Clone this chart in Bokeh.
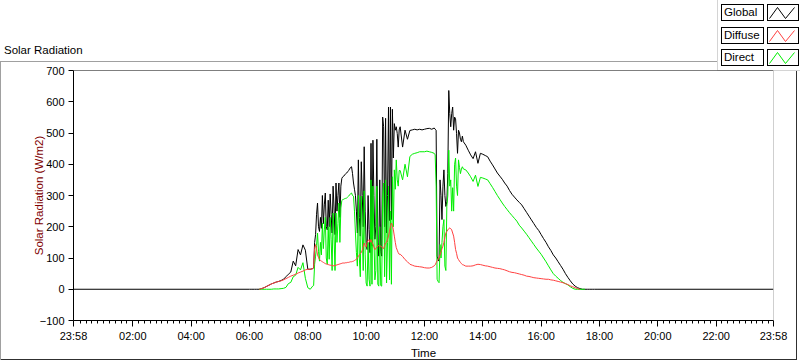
from urllib.parse import quote
from bokeh.plotting import figure
from bokeh.layouts import column
from bokeh.models import Range1d, FixedTicker, Span, InlineStyleSheet, Div
from bokeh.embed import file_html
from bokeh.resources import INLINE

NaN = float("nan")

# ---- data: minutes after midnight / W/m2 (5-min, 2-min in the cloudy spells) ----
time_min = (list(range(360, 490, 5)) + list(range(490, 670, 2)) +
            list(range(670, 740, 5)) + list(range(740, 800, 2)) +
            list(range(800, 1080, 5)))

global_wm2 = [
    # 06:00-08:05 (5 min)
    0, 0, 0, 0, 0, 2, 5, 9, 13, 17, 20, 23,
    25, 28, 32, 40, 48, 55, 90, 75, 127, 110, 142, 125,
    64, 64,
    # 08:10-11:08 (2 min)
    66, 68, 150, 175, 240, 276, 200, 185, 230, 195,
    300, 210, 270, 308, 200, 190, 285, 200, 305, 240,
    180, 330, 260, 175, 340, 250, 300, 340, 230, 330,
    355, 360, 362, 366, 370, 372, 376, 380, 385, 390,
    392, 370, 340, 320, 300, 250, 180, 414, 230, 170,
    408, 300, 200, 456, 250, 150, 127, 300, 191, 117,
    467, 138, 477, 300, 160, 200, 480, 150, 106, 350,
    120, 106, 551, 520, 200, 547, 180, 300, 583, 220,
    583, 223, 576, 420, 530, 509, 520, 498, 455, 510,
    # 11:10-12:15 (5 min)
    520, 455, 509, 480, 508, 510, 512, 510, 512, 510, 512, 514, 515, 512,
    # 12:20-13:18 (2 min)
    516, 512, 509, 106, 95, 90, 350, 300, 223, 330,
    382, 300, 265, 280, 370, 636, 562, 520, 562, 583,
    509, 551, 545, 498, 435, 509, 500, 480, 472, 490,
    # 13:20-17:55 (5 min)
    472, 461, 445, 430, 418, 440, 403, 435,
    432, 428, 424, 410, 398, 385, 372, 362, 352, 340, 330, 316,
    304, 295, 286, 278, 270, 258, 246, 234, 222, 210, 198, 188,
    175, 162, 150, 136, 124, 110, 100, 88, 76, 64, 50, 38,
    27, 17, 10, 5, 2, 0, 0, 0, 0, 0, 0, 0,
]

diffuse_wm2 = [
    NaN, NaN, NaN, NaN, 0, 2, 5, 9, 13, 17, 20, 23,
    25, 27, 30, 34, 38, 42, 45, 48, 52, 55, 58, 62,
    64, 64,
    66, 70, 130, 143, 128, 110, 102, 96, 92, 90,
    88, 86, 84, 82, 81, 80, 79, 78, 77, 77,
    76, 75, 75, 76, 77, 78, 79, 80, 81, 82,
    83, 84, 84, 84, 85, 85, 86, 86, 87, 88,
    88, 89, 90, 92, 94, 96, 100, 105, 110, 114,
    117, 125, 135, 148, 140, 135, 150, 155, 159, 150,
    159, 150, 145, 135, 127, 130, 135, 138, 140, 138,
    138, 136, 132, 130, 140, 148, 150, 160, 170, 185,
    201, 212, 205, 190, 170, 150, 133, 125, 117, 112,
    112, 105, 95, 88, 80, 77, 74, 73, 72, 71, 69, 68, 68, 70,
    75, 78, 85, 92, 95, 100, 110, 120, 130, 138,
    150, 165, 180, 185, 190, 194, 196, 194, 190, 180,
    170, 150, 127, 115, 100, 95, 90, 86, 82, 79,
    78, 74, 74, 74, 75, 78, 80, 79,
    77, 75, 74, 72, 70, 68, 67, 66, 64, 62, 59, 56,
    54, 53, 51, 49, 47, 45, 42, 41, 39, 37, 36, 35,
    34, 33, 32, 32, 30, 29, 27, 25, 23, 21, 18, 15,
    11, 8, 5, 2, 0, NaN, NaN, NaN, NaN, NaN, NaN, NaN,
]

direct_wm2 = [
    NaN, NaN, NaN, NaN, 0, 0, 0, 0, 0, 0, 1, 1,
    1, 2, 3, 6, 18, 22, 40, 45, 70, 62, 85, 35,
    5, 0,
    10, 12, 80, 106, 140, 180, 120, 90, 150, 110,
    212, 130, 190, 230, 100, 80, 200, 96, 230, 160,
    60, 244, 170, 60, 244, 150, 210, 276, 150, 260,
    284, 287, 288, 290, 291, 292, 295, 298, 302, 306,
    308, 300, 298, 250, 180, 117, 74, 300, 100, 40,
    298, 180, 60, 315, 110, 20, 10, 150, 32, 10,
    350, 16, 330, 170, 30, 60, 330, 16, 10, 200,
    12, 10, 300, 340, 40, 350, 20, 150, 330, 30,
    250, 16, 360, 200, 382, 320, 414, 350, 330, 380,
    380, 350, 400, 360, 425, 432, 435, 437, 440, 440, 440, 442, 440, 438,
    435, 430, 330, 32, 25, 21, 143, 100, 150, 200,
    223, 74, 60, 265, 300, 445, 330, 350, 250, 325,
    250, 400, 420, 330, 300, 414, 390, 370, 385, 392,
    385, 382, 372, 360, 345, 365, 329, 358,
    356, 353, 350, 338, 326, 313, 300, 288, 276, 265, 255, 245,
    236, 227, 218, 205, 196, 186, 176, 165, 154, 143, 132, 122,
    112, 100, 88, 75, 62, 50, 42, 35, 28, 22, 18, 14,
    8, 3, 0, 0, 0, 0, 0, NaN, NaN, NaN, NaN, NaN,
]

# axis ends: 23:58 (day before) to 23:58
t_start, t_end = -2, 1438
x_tick_values = [-2, 120, 240, 360, 480, 600, 720, 840, 960, 1080, 1200, 1320, 1438]
x_tick_labels = ["23:58", "02:00", "04:00", "06:00", "08:00", "10:00", "12:00",
                 "14:00", "16:00", "18:00", "20:00", "22:00", "23:58"]
y_tick_values = [-100, 0, 100, 200, 300, 400, 500, 600, 700]
series_names = ["Global", "Diffuse", "Direct"]
series_colors = ["#000000", "#ff4040", "#00ee00"]
chart_title = "Solar Radiation"

FONT = "Liberation Sans"

# ---- page decoration drawn as CSS backgrounds of the figure element ----
legend_tops = [4, 27, 49]
layers = []  # (image, x, y, w, h) first = top-most


def rect(color, x, y, w, h):
    layers.append((f"linear-gradient({color},{color})", x, y, w, h))


for col, t in zip(series_colors, legend_tops):
    svg = ("<svg xmlns='http://www.w3.org/2000/svg' width='32' height='17'>"
           "<polyline points='2.5,14.5 10.5,3.5 18.5,14.5 27.5,3.5' fill='none' "
           f"stroke='{col}' stroke-width='1'/></svg>")
    layers.append((f"url(\"data:image/svg+xml;utf8,{quote(svg)}\")", 767, t, 32, 17))
for t in legend_tops:
    rect("#ffffff", 722, t + 1, 41, 15)
    rect("#ffffff", 768, t + 1, 30, 15)
for t in legend_tops:
    rect("#000000", 721, t, 43, 17)
    rect("#000000", 767, t, 32, 17)
rect("#d4d4d4", 717, 0, 1, 71)      # legend panel edge
rect("#d4d4d4", 717, 70, 83, 1)
rect("#ffffff", 718, 0, 82, 70)     # legend panel
rect("#a0a0a0", 0, 61, 717, 1)      # outer frame
rect("#a0a0a0", 0, 61, 1, 299)
rect("#303030", 0, 359, 797, 1)
rect("#303030", 796, 71, 1, 289)

css = (":host { background-color: #ffffff; background-repeat: no-repeat; "
       "background-image: " + ", ".join(l[0] for l in layers) + "; "
       "background-position: " + ", ".join(f"{l[1]}px {l[2]}px" for l in layers) + "; "
       "background-size: " + ", ".join(f"{l[3]}px {l[4]}px" for l in layers) + "; }")

# ---- figure ----
W, H = 800, 361
p = figure(width=W, height=H, output_backend="svg", toolbar_location=None,
           x_range=Range1d(t_start, t_end), y_range=Range1d(-100, 700),
           min_border_left=73, min_border_right=27, min_border_top=70,
           min_border_bottom=39, stylesheets=[InlineStyleSheet(css=css)])
p.background_fill_color = "white"
p.border_fill_alpha = 0
p.outline_line_color = None
p.xgrid.grid_line_color = None
p.ygrid.grid_line_color = None

minor = [m for m in range(12, 1440, 12) if m % 120 != 0]
p.xaxis.ticker = FixedTicker(ticks=x_tick_values, minor_ticks=minor)
p.xaxis.major_label_overrides = {v: s for v, s in zip(x_tick_values, x_tick_labels)}
p.yaxis.ticker = FixedTicker(ticks=y_tick_values, minor_ticks=[])

for ax in (p.xaxis[0], p.yaxis[0]):
    ax.axis_line_color = "black"
    ax.major_tick_line_color = "black"
    ax.minor_tick_line_color = "black"
    ax.major_tick_in = 0
    ax.minor_tick_in = 0
    ax.major_label_text_font = FONT
    ax.major_label_text_font_size = "11px"
    ax.major_label_text_color = "black"
    ax.axis_label_text_font = FONT
    ax.axis_label_text_font_size = "11.5px"
    ax.axis_label_text_font_style = "normal"

p.xaxis.major_tick_out = 6
p.xaxis.minor_tick_out = 3
p.xaxis.major_label_standoff = 3
p.xaxis.axis_label = "Time"
p.xaxis.axis_label_standoff = 2
p.xaxis.axis_label_text_color = "black"

p.yaxis.major_tick_out = 5
p.yaxis.minor_tick_out = 0
p.yaxis.major_label_standoff = 4
p.yaxis.axis_label = "Solar Radiation (W/m2)"
p.yaxis.axis_label_standoff = -8
p.yaxis.axis_label_text_color = "#800000"

# plot frame top (dark) and right (light)
p.add_layout(Span(location=700, dimension="width", line_color="black", line_width=1))
p.add_layout(Span(location=t_end, dimension="height", line_color="#a0a0a0", line_width=1))

# ---- data lines ----
gx = [t_start] + time_min + [t_end]
gy = [0] + global_wm2 + [0]
p.line(gx, gy, line_color=series_colors[0], line_width=1)
p.line(time_min, direct_wm2, line_color=series_colors[2], line_width=1)
p.line(time_min, diffuse_wm2, line_color=series_colors[1], line_width=1)

# ---- texts outside the plot frame: an HTML overlay on top of the figure ----
# (the Div content box sits about 5px right / 17px below the overlay origin)
DX, DY = -5, -17
span_css = (f"position:absolute;white-space:nowrap;font-family:{FONT},sans-serif;"
            "font-size:11.5px;line-height:1;color:#000;margin:0;padding:0;")
html = ('<div style="position:relative;width:800px;height:0px;">'
        f'<span style="{span_css}left:{4 + DX}px;top:{45 + DY}px;">{chart_title}</span>')
for name, t in zip(series_names, legend_tops):
    html += (f'<span style="{span_css}left:{724 + DX}px;top:{t + 3 + DY}px;">'
             f'{name}</span>')
html += "</div>"

overlay = Div(text=html, width=800, height=0,
              styles={"position": "absolute", "left": "0px", "top": "0px",
                      "z-index": "10", "overflow": "visible"})

page = column(overlay, p, spacing=0)
open("out.html", "w").write(file_html(page, INLINE))
